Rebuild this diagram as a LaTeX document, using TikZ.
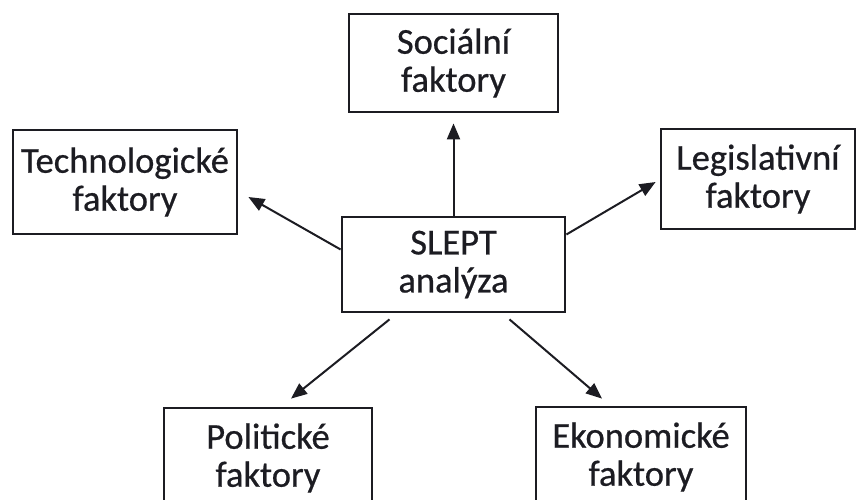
\documentclass[tikz,border=0pt]{standalone}
\usepackage{fontspec}
\setmainfont[FakeBold=0.6]{Carlito}
\usetikzlibrary{arrows.meta}
\definecolor{ink}{HTML}{1C1C22}
\tikzset{
  box/.style={draw=ink, line width=2.8pt, fill=white, align=center, inner sep=0pt,
    font=\fontsize{36.5}{38}\selectfont, text=ink},
  arr/.style={draw=ink, line width=2pt, -{Triangle[length=16pt,width=13pt]}}
}
\begin{document}
\begin{tikzpicture}[x=1pt,y=-1pt]
\useasboundingbox (0,0) rectangle (857,499);
\begin{scope}
\clip (0,0) rectangle (857,499);
\node[box, minimum width=209pt, minimum height=98pt] (soc) at (453.5,63) {Sociální\\faktory};
\node[box, minimum width=224pt, minimum height=104pt] (tech) at (125,182) {Technologické\\faktory};
\node[box, minimum width=194pt, minimum height=100pt] (leg) at (758,179) {Legislativní\\faktory};
\node[box, minimum width=223pt, minimum height=95pt] (slept) at (453.5,264.5) {SLEPT\\analýza};
\node[box, minimum width=208pt, minimum height=100pt] (pol) at (268,458) {Politické\\faktory};
\node[box, minimum width=210pt, minimum height=100pt] (eko) at (641,457) {Ekonomické\\faktory};
\end{scope}
\draw[arr] (slept.north) -- ([yshift=-10pt]soc.south);
\draw[arr] ([yshift=15pt]slept.west) -- ([xshift=10pt,yshift=-15pt]tech.east);
\draw[arr] ([yshift=30pt]slept.east) -- ([xshift=-4pt,yshift=-3pt]leg.west);
\draw[arr] ([xshift=-64pt,yshift=-6pt]slept.south) -- ([xshift=23pt,yshift=8pt]pol.north);
\draw[arr] ([xshift=56pt,yshift=-6pt]slept.south) -- ([xshift=-39pt,yshift=7pt]eko.north);
\end{tikzpicture}
\end{document}
